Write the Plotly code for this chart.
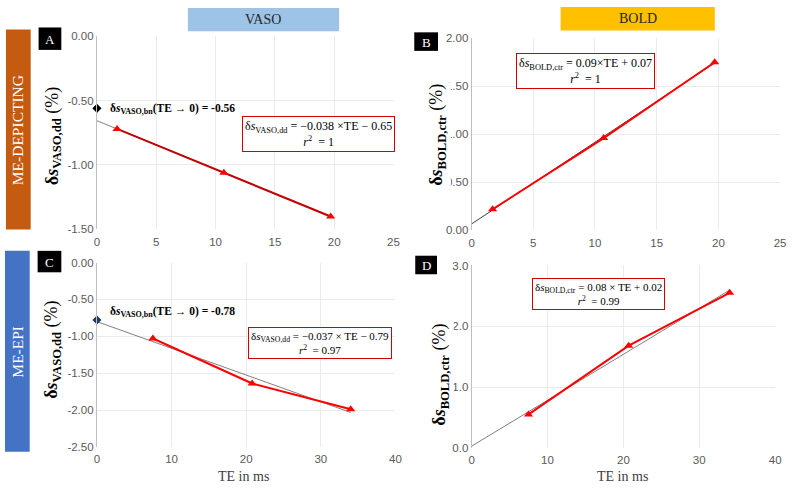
import numpy as np
import plotly.graph_objects as go

W, H = 792, 489

# ---------------- data ----------------
te_depict = [1.7, 10.7, 19.7]
vaso_depict = [-0.72, -1.06, -1.40]
bold_depict = [0.22, 0.96, 1.75]

te_epi_vaso = [7.5, 20.8, 34.0]
vaso_epi = [-1.03, -1.64, -1.99]
te_epi_bold = [7.5, 20.7, 34.0]
bold_epi = [0.55, 1.68, 2.55]

vaso_bn_depict = -0.56
vaso_bn_epi = -0.78

ytick_a = [0.0, -0.5, -1.0, -1.5]
ytick_a_txt = ["0.00", "-0.50", "-1.00", "-1.50"]
ytick_b = [0.0, 0.5, 1.0, 1.5, 2.0]
ytick_b_txt = ["0.00", "0.50", "1.00", "1.50", "2.00"]
ytick_c = [0.0, -0.5, -1.0, -1.5, -2.0, -2.5]
ytick_c_txt = ["0.00", "-0.50", "-1.00", "-1.50", "-2.00", "-2.50"]
ytick_d = [0.0, 1.0, 2.0, 3.0]
ytick_d_txt = ["0.0", "1.0", "2.0", "3.0"]

SERIF = "Liberation Serif"
SANS = "Liberation Sans"


def px(x):
    return x / W


def py(y):
    return 1 - y / H


def fit_line(x, y):
    k, b = np.polyfit(x, y, 1)
    xs = np.array([0.0, max(x)])
    return xs, k * xs + b


fig = go.Figure()

panels = [
    ("x", "y", te_depict, vaso_depict, "#C00000", "#808080"),
    ("x2", "y2", te_depict, bold_depict, "#FF0000", "#404040"),
    ("x3", "y3", te_epi_vaso, vaso_epi, "#FF0000", "#808080"),
    ("x4", "y4", te_epi_bold, bold_epi, "#FF0000", "#808080"),
]
for xa, ya, xd, yd, lc, fc in panels:
    fx, fy = fit_line(xd, yd)
    fig.add_trace(go.Scatter(x=fx, y=fy, mode="lines", xaxis=xa, yaxis=ya,
                             line=dict(color=fc, width=1), showlegend=False,
                             hoverinfo="skip", cliponaxis=False))
    fig.add_trace(go.Scatter(x=xd, y=yd, mode="lines+markers", xaxis=xa, yaxis=ya,
                             line=dict(color=lc, width=2),
                             marker=dict(symbol="triangle-up", size=8, color="#FF0000"),
                             showlegend=False, cliponaxis=False))

fig.add_trace(go.Scatter(x=[0], y=[vaso_bn_depict], mode="markers", xaxis="x", yaxis="y",
                         marker=dict(symbol="diamond", size=7, color="black"),
                         showlegend=False, cliponaxis=False))
fig.add_trace(go.Scatter(x=[0], y=[vaso_bn_epi], mode="markers", xaxis="x3", yaxis="y3",
                         marker=dict(symbol="diamond", size=7, color="#1F3864"),
                         showlegend=False, cliponaxis=False))

GRID = "#EBEBEB"
TICKF = dict(family=SANS, size=11.5, color="#595959")


def xaxis(domain, rng, dtick, anchor):
    return dict(domain=domain, range=rng, dtick=dtick, tick0=0, anchor=anchor,
                showgrid=True, gridcolor=GRID, gridwidth=1, zeroline=False,
                showline=False, ticks="", ticklabelstandoff=4,
                tickfont=TICKF, fixedrange=True)


def yaxis(domain, rng, tv, tt, anchor):
    return dict(domain=domain, range=rng, tickvals=tv, ticktext=tt, anchor=anchor,
                showgrid=True, gridcolor=GRID, gridwidth=1, zeroline=False,
                showline=True, linecolor="#BFBFBF", linewidth=1, ticks="",
                tickfont=TICKF, fixedrange=True)


fig.update_layout(
    width=W, height=H, margin=dict(l=0, r=0, t=0, b=0),
    paper_bgcolor="white", plot_bgcolor="white",
    xaxis=xaxis([px(95), px(395)], [0, 25], 5, "y"),
    yaxis=yaxis([py(229), py(31)], [-1.5, 0], ytick_a, ytick_a_txt, "x"),
    xaxis2=xaxis([px(474), px(786)], [0, 25], 5, "y2"),
    yaxis2=yaxis([py(230), py(33)], [0, 2], ytick_b, ytick_b_txt, "x2"),
    xaxis3=xaxis([px(95), px(397)], [0, 40], 10, "y3"),
    yaxis3=yaxis([py(452), py(263)], [-2.5, 0], ytick_c, ytick_c_txt, "x3"),
    xaxis4=xaxis([px(474), px(781)], [0, 40], 10, "y4"),
    yaxis4=yaxis([py(453), py(266)], [0, 3], ytick_d, ytick_d_txt, "x4"),
)

shapes = []
ann = []


def rect(x0, y0, x1, y1, fill, line=None):
    shapes.append(dict(type="rect", xref="paper", yref="paper",
                       x0=px(x0), x1=px(x1), y0=py(y1), y1=py(y0),
                       fillcolor=fill, line=dict(width=0 if line is None else 1,
                                                 color=line or fill), layer="above"))


def text(x, y, t, size, color="black", family=SERIF, angle=0, xanchor="center",
         bg=None, **kw):
    d = dict(xref="paper", yref="paper", x=px(x), y=py(y), text=t, showarrow=False,
             font=dict(family=family, size=size, color=color), textangle=angle,
             xanchor=xanchor, yanchor="middle")
    if bg:
        d["bgcolor"] = bg
    d.update(kw)
    ann.append(d)


# headers
rect(187, 2, 340, 26, "#9DC3E6")
text(263, 14, "VASO", 14, color="#262626")
rect(564, 1, 720, 25, "#FFC000")
text(642, 13, "BOLD", 14, color="#262626")

# row labels
rect(3, 24, 28, 229, "#C55A11")
text(15.5, 127, "ME-DEPICTING", 15.5, color="white", angle=-90)
rect(2, 251, 27, 457, "#4472C4")
text(14.5, 354, "ME-EPI", 15.5, color="white", angle=-90)

# panel letters
for (x0, y0, x1, y1, L) in [(36, 22, 59, 45, "A"), (416, 27, 440, 46, "B"),
                            (35, 251, 59, 273, "C"), (417, 256, 439, 275, "D")]:
    rect(x0, y0, x1, y1, "black")
    text((x0 + x1) / 2, (y0 + y1) / 2 + 0.5, L, 13, color="white")

# y titles
vt = "<b>δ<i>s</i><sub>VASO,dd</sub></b> (%)"
bt = "<b>δ<i>s</i><sub>BOLD,ctr</sub></b> (%)"
text(51, 133, vt, 18, angle=-90)
text(440, 132, bt, 18, angle=-90, bg="white")
text(50, 352, vt, 18, angle=-90)
text(443, 378, bt, 18, angle=-90, bg="white")

# x titles
text(243, 482, "TE in ms", 14, color="#404040")
text(627, 482, "TE in ms", 14, color="#404040")

# intercept labels
text(106, 106, "<b>δ<i>s</i><sub>VASO,bn</sub>(TE → 0) = -0.56</b>", 11.5, xanchor="left")
text(106, 314, "<b>δ<i>s</i><sub>VASO,bn</sub>(TE → 0) = -0.78</b>", 11.5, xanchor="left")

# equation boxes
box = dict(bordercolor="#D00000", borderwidth=1, bgcolor="white", borderpad=2)
text(319.5, 131.5, "δ<i>s</i><sub>VASO,dd</sub> = −0.038 ×TE − 0.65<br><i>r</i><sup>2</sup>  = 1",
     12, **box)
text(589.5, 67, "δ<i>s</i><sub>BOLD,ctr</sub> = 0.09×TE + 0.07<br><i>r</i><sup>2</sup>  = 1",
     12, **box)
text(320.5, 345.5, "δ<i>s</i><sub>VASO,dd</sub> = −0.037 × TE − 0.79<br><i>r</i><sup>2</sup>  = 0.97",
     11, **box)
text(602.5, 295, "δ<i>s</i><sub>BOLD,ctr</sub> = 0.08 × TE + 0.02<br><i>r</i><sup>2</sup>  = 0.99",
     11, **box)

fig.update_layout(shapes=shapes, annotations=ann)
fig.write_html("out.html")
